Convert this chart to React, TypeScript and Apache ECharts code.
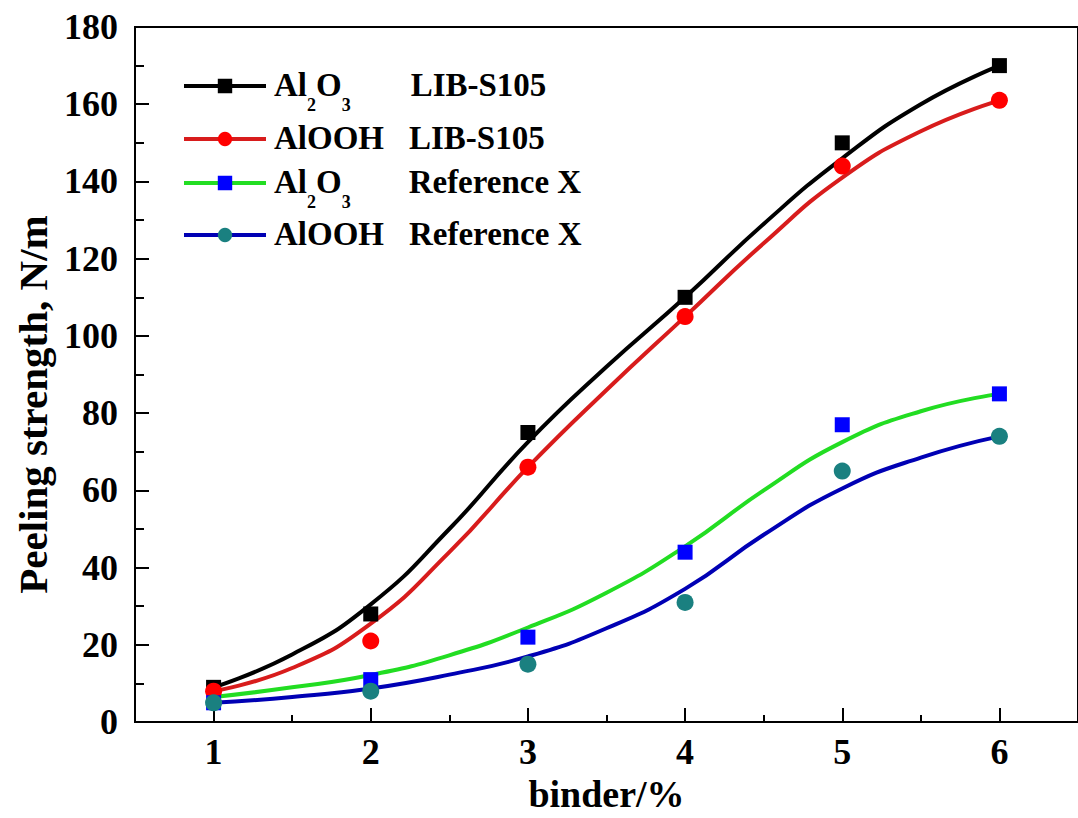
import React, { useEffect, useRef } from "react";
import * as echarts from "echarts";

const xTicks = [1, 2, 3, 4, 5, 6];
const xMinorTicks = [1.5, 2.5, 3.5, 4.5, 5.5];

// measured points
const al2o3Lib = [9, 28, 75, 110, 150, 170];
const aloohLib = [8, 21, 66, 105, 144, 161];
const al2o3Ref = [5, 11, 22, 44, 77, 85];
const aloohRef = [5, 8, 15, 31, 65, 74];

// fitted curves at half steps
const curveX = [1, 1.5, 2, 2.5, 3, 3.5, 4, 4.5, 5, 5.5, 6];
const fitAl2o3Lib = [9, 17.5, 30.5, 50, 72.5, 92, 110, 129, 146, 160, 170];
const fitAloohLib = [8, 14, 25.5, 44, 66, 86, 105, 124, 141, 153, 161];
const fitAl2o3Ref = [6.5, 9, 12.2, 17.3, 24.5, 33.5, 45.5, 60, 72.5, 80.5, 85];
const fitAloohRef = [5, 6.5, 8.7, 12.3, 17, 24.3, 34.5, 48.5, 60.5, 68.5, 74];

const FONT = "Liberation Serif";

const pairs = (xs: number[], ys: number[]) => xs.map((x, i) => [x, ys[i]]);

export default function App() {
  const ref = useRef<HTMLDivElement>(null);
  useEffect(() => {
    if (!ref.current) return;
    const chart = echarts.init(ref.current, null, { renderer: "svg" });

    const a = { fontFamily: FONT, fontWeight: "bold", fontSize: 33, color: "#000", lineHeight: 36, verticalAlign: "top" };
    const rich = {
      a,
      s: { fontFamily: FONT, fontWeight: "bold", fontSize: 18, color: "#000", lineHeight: 18, padding: [28, 0, 0, 0], verticalAlign: "top" },
      p1: { ...a, padding: [0, 0, 0, 60] },
      p2: { ...a, padding: [0, 0, 0, 25] },
      p3: { ...a, padding: [0, 0, 0, 58] },
      p4: { ...a, padding: [0, 0, 0, 25] },
    };

    const legendDefs = [
      { name: "Al2O3 LIB-S105", top: 68, fmt: "{a|Al}{s|2}{a|O}{s|3}{p1|LIB-S105}" },
      { name: "AlOOH LIB-S105", top: 121, fmt: "{a|AlOOH}{p2|LIB-S105}" },
      { name: "Al2O3 Reference X", top: 165, fmt: "{a|Al}{s|2}{a|O}{s|3}{p3|Reference X}" },
      { name: "AlOOH Reference X", top: 217, fmt: "{a|AlOOH}{p4|Reference X}" },
    ];

    const legends = legendDefs.map((d) => ({
      data: [d.name],
      left: 182,
      top: d.top,
      padding: 0,
      itemWidth: 82,
      itemHeight: 18,
      formatter: () => d.fmt,
      lineStyle: { width: 4 },
      textStyle: { rich, fontFamily: FONT, fontSize: 33, fontWeight: "bold", color: "#000", padding: [0, 0, 0, 3] },
      selectedMode: false,
    }));

    const curve = (name: string, ys: number[], lineColor: string, symColor: string, symbol: string) => ({
      name,
      type: "line",
      data: pairs(curveX, ys),
      smooth: 0.5,
      showSymbol: false,
      symbol,
      itemStyle: { color: symColor },
      lineStyle: { color: lineColor, width: 4 },
      z: 2,
    });
    const marks = (name: string, ys: number[], color: string, symbol: string, size: number) => ({
      name,
      type: "scatter",
      data: pairs(xTicks, ys),
      symbol,
      symbolSize: size,
      itemStyle: { color, opacity: 1 },
      z: 3,
    });

    chart.setOption({
      animation: false,
      backgroundColor: "#fff",
      grid: { left: 135, top: 27, bottom: 94, right: -4, show: true, borderColor: "#000", borderWidth: 2, backgroundColor: "transparent" },
      legend: legends,
      xAxis: [
        {
          type: "value",
          min: 0.5,
          max: 6.5,
          name: "binder/%",
          nameLocation: "middle",
          nameGap: 52,
          nameTextStyle: { fontFamily: FONT, fontWeight: "bold", fontSize: 38, color: "#000" },
          axisLine: { show: true, onZero: false, lineStyle: { color: "#000", width: 2 } },
          axisTick: { show: true, inside: true, length: 14, customValues: xTicks, lineStyle: { color: "#000", width: 2 } },
          axisLabel: { customValues: xTicks, margin: 12, fontFamily: FONT, fontWeight: "bold", fontSize: 36, color: "#000" },
          splitLine: { show: false },
        },
        {
          type: "value",
          min: 0.5,
          max: 6.5,
          position: "bottom",
          axisLine: { show: false, onZero: false },
          axisTick: { show: true, inside: true, length: 7, customValues: xMinorTicks, lineStyle: { color: "#000", width: 2 } },
          axisLabel: { show: false },
          splitLine: { show: false },
        },
      ],
      yAxis: {
        type: "value",
        min: 0,
        max: 180,
        interval: 20,
        name: "Peeling strength, N/m",
        nameLocation: "middle",
        nameGap: 82,
        nameTextStyle: { fontFamily: FONT, fontWeight: "bold", fontSize: 41, color: "#000", padding: [0, 60, 0, 0] },
        axisLine: { show: true, onZero: false, lineStyle: { color: "#000", width: 2 } },
        axisTick: { show: true, inside: true, length: 14, lineStyle: { color: "#000", width: 2 } },
        minorTick: { show: true, splitNumber: 2, length: 9, lineStyle: { color: "#000", width: 2 } },
        axisLabel: { margin: 17, fontFamily: FONT, fontWeight: "bold", fontSize: 36, color: "#000" },
        splitLine: { show: false },
      },
      series: [
        curve("Al2O3 LIB-S105", fitAl2o3Lib, "#000000", "#000000", "rect"),
        curve("AlOOH LIB-S105", fitAloohLib, "#d81c1c", "#ff0000", "circle"),
        curve("Al2O3 Reference X", fitAl2o3Ref, "#22dd22", "#0000ff", "rect"),
        curve("AlOOH Reference X", fitAloohRef, "#0000b4", "#1a8080", "circle"),
        marks("Al2O3 LIB-S105 data", al2o3Lib, "#000000", "rect", 15),
        marks("AlOOH LIB-S105 data", aloohLib, "#ff0000", "circle", 17),
        marks("Al2O3 Reference X data", al2o3Ref, "#0000ff", "rect", 15),
        marks("AlOOH Reference X data", aloohRef, "#1a8080", "circle", 17),
      ],
    });
    return () => chart.dispose();
  }, []);
  return <div ref={ref} style={{ position: "absolute", left: 0, top: 0, width: 1078, height: 818, background: "#fff" }} />;
}
